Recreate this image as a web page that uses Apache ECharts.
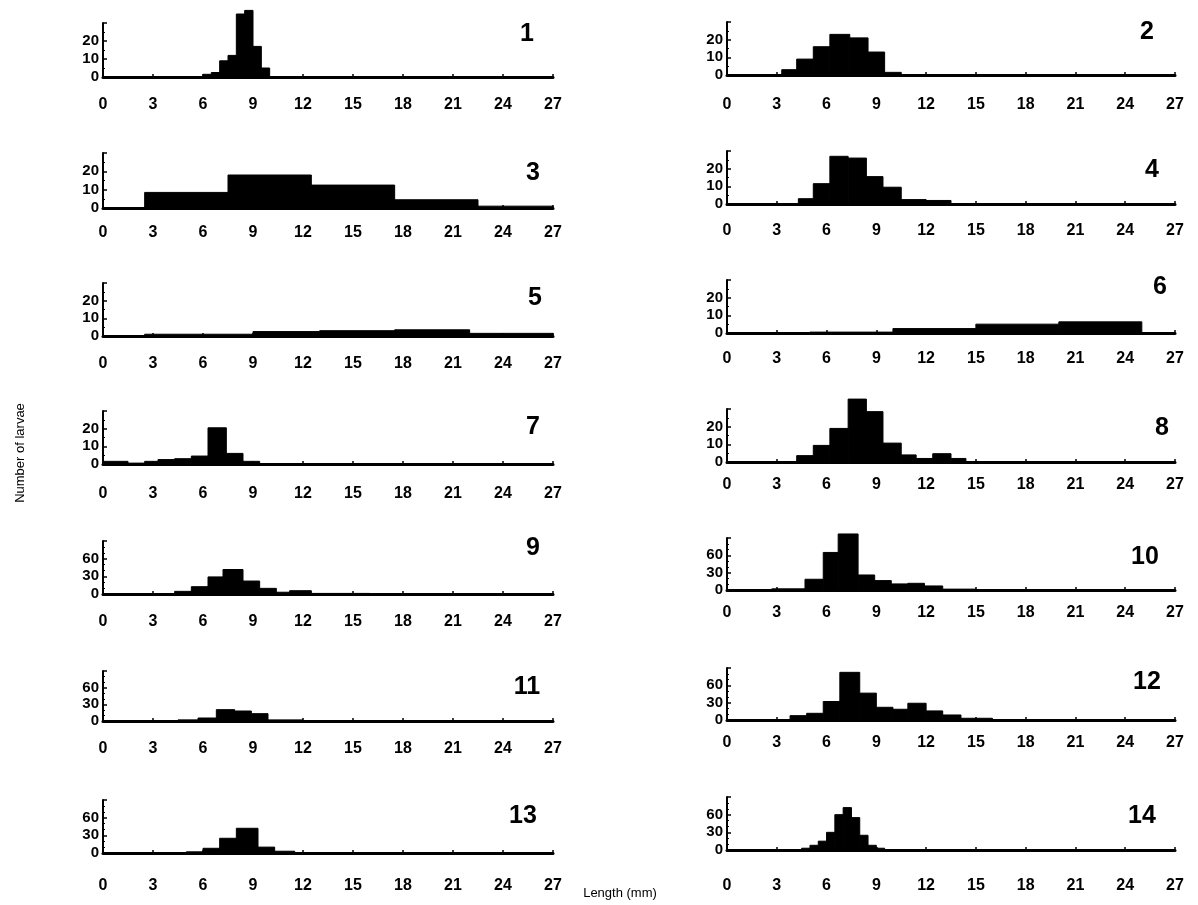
<!DOCTYPE html>
<html>
<head>
<meta charset="utf-8">
<script src="https://cdn.jsdelivr.net/npm/echarts@6/dist/echarts.min.js"></script>
<style>
html,body{margin:0;padding:0;background:#fff;}
#chart{width:1198px;height:905px;}
</style>
</head>
<body>
<div id="chart"></div>
<script>
// Histogram bins per panel: [start mm, end mm, number of larvae]
const panel1 = [[6,6.5,1.5],[6.5,7,2.5],[7,7.5,9],[7.5,8,12],[8,8.5,35],[8.5,9,37],[9,9.5,17],[9.5,10,5]];
const panel2 = [[3.3,4.2,3],[4.2,5.2,9],[5.2,6.2,16],[6.2,7.4,23],[7.4,8.5,21],[8.5,9.5,13],[9.5,10.5,1.5]];
const panel3 = [[2.5,7.5,8.5],[7.5,12.5,18],[12.5,17.5,12.5],[17.5,22.5,4.5],[22.5,27,1]];
const panel4 = [[4.3,5.2,3],[5.2,6.2,11.5],[6.2,7.3,27],[7.3,8.4,26],[8.4,9.4,15.5],[9.4,10.5,9.5],[10.5,12,2.5],[12,13.5,2]];
const panel5 = [[2.5,9,1],[9,13,2.5],[13,17.5,3],[17.5,22,3.5],[22,27,1.5]];
const panel6 = [[5,10,0.5],[10,15,2.5],[15,20,5],[20,25,6.3]];
const panel7 = [[0,1.5,1.5],[1.5,2.5,0.5],[2.5,3.3,1.5],[3.3,4.3,2.5],[4.3,5.3,3],[5.3,6.3,4.5],[6.3,7.4,20.5],[7.4,8.4,6],[8.4,9.4,1.5]];
const panel8 = [[4.2,5.2,3.6],[5.2,6.2,9.4],[6.2,7.3,19],[7.3,8.4,35.6],[8.4,9.4,28.5],[9.4,10.5,10.7],[10.5,11.4,4],[11.4,12.4,2],[12.4,13.5,4.7],[13.5,14.4,2]];
const panel9 = [[4.3,5.3,4.5],[5.3,6.3,12.4],[6.3,7.2,29],[7.2,8.4,41.6],[8.4,9.4,22],[9.4,10.4,9.6],[10.4,11.2,3],[11.2,12.5,5.6],[12.5,16,1]];
const panel10 = [[2.7,4.7,2],[4.7,5.8,18.6],[5.8,6.7,65],[6.7,7.9,97],[7.9,8.9,26],[8.9,9.9,16.3],[9.9,10.9,10.5],[10.9,11.9,11.6],[11.9,13,7],[13,15,1.5]];
const panel11 = [[4.5,5.7,2],[5.7,6.8,5.4],[6.8,7.9,20.4],[7.9,8.9,18],[8.9,9.9,13.2],[9.9,12,2]];
const panel12 = [[3.8,4.8,7.5],[4.8,5.8,11.6],[5.8,6.8,32],[6.8,8,82.5],[8,9,46.5],[9,10,22],[10,10.9,18.6],[10.9,12,29],[12,13,15.7],[13,14.1,8.7],[14.1,16,3]];
const panel13 = [[5,6,2],[6,7,8],[7,8,25],[8,9.3,42],[9.3,10.3,10],[10.3,11.5,3]];
const panel14 = [[4.5,5,3],[5,5.5,8],[5.5,6,15],[6,6.5,30],[6.5,7,60],[7,7.5,72],[7.5,8,55],[8,8.5,25],[8.5,9,8],[9,9.5,3]];

const panels = [panel1,panel2,panel3,panel4,panel5,panel6,panel7,panel8,panel9,panel10,panel11,panel12,panel13,panel14];
const panelNames = ['1','2','3','4','5','6','7','8','9','10','11','12','13','14'];
const yMaxSmall = 30, yIntSmall = 10;   // panels 1-8
const yMaxLarge = 90, yIntLarge = 30;   // panels 9-14
const xTickMax = 27, xTickInterval = 3;
const xTitle = 'Length (mm)';
const yTitle = 'Number of larvae';

// layout (pixels)
const colX = [[103,553],[727,1175]];
const rowsLeft = [[23,77],[153,208],[283,336],[411,464],[541,594],[671,721],[800,853]];
const rowsRight = [[22,75],[151,204],[280,333],[409,462],[538,590],[668,720],[797,850]];
const labelYLeft = [103,231,362,492,620,747,884];
const labelYRight = [103,229,357,483,611,741,884];
const numPos = [[527,34],[1147,32],[533,173],[1152,170],[535,298],[1160,287],[533,427],[1162,428],[533,548],[1145,557],[527,687],[1147,682],[523,816],[1142,816]];

const FONT = '"Liberation Sans", Arial, sans-serif';
const grids = [], xAxes = [], yAxes = [], series = [], graphics = [];

function renderItem(params, api) {
  const x0 = api.value(0), x1 = api.value(1), y = api.value(2);
  const p0 = api.coord([x0, 0]);
  const p1 = api.coord([x1, y]);
  return {
    type: 'rect',
    shape: {x: p0[0], y: p1[1], width: p1[0] - p0[0], height: p0[1] - p1[1]},
    style: {fill: '#000', stroke: '#000', lineWidth: 1}
  };
}

panels.forEach((data, i) => {
  const col = i % 2, row = Math.floor(i / 2);
  const [l, r] = colX[col];
  const [t, b] = (col === 0 ? rowsLeft : rowsRight)[row];
  const labelY = (col === 0 ? labelYLeft : labelYRight)[row];
  const large = i >= 8;
  const ymax = large ? yMaxLarge : yMaxSmall;
  const yint = large ? yIntLarge : yIntSmall;
  grids.push({left: l, top: t, width: r - l, height: b - t, containLabel: false});
  xAxes.push({
    type: 'value', gridIndex: i, min: 0, max: xTickMax, interval: xTickInterval,
    axisLine: {show: true, onZero: false, lineStyle: {color: '#000', width: 3}},
    axisTick: {show: true, inside: true, length: 3, lineStyle: {color: '#000', width: 1.5}},
    splitLine: {show: false},
    axisLabel: {show: true, margin: Math.max(4, labelY - b - 6), color: '#000', fontFamily: FONT, fontWeight: 'bold', fontSize: 16}
  });
  yAxes.push({
    type: 'value', gridIndex: i, min: 0, max: ymax, interval: yint,
    axisLine: {show: true, lineStyle: {color: '#000', width: 2}},
    axisTick: {show: true, inside: true, length: 4, lineStyle: {color: '#000', width: 1.5}},
    minorTick: {show: true, splitNumber: large ? 3 : 2, length: 2, lineStyle: {color: '#000', width: 1.2}},
    splitLine: {show: false},
    axisLabel: {
      show: true, margin: 4, color: '#000', fontFamily: FONT, fontWeight: 'bold', fontSize: 15,
      formatter: v => (v === ymax ? '' : String(v))
    }
  });
  series.push({
    type: 'custom', xAxisIndex: i, yAxisIndex: i, data: data,
    renderItem: renderItem, clip: false,
    encode: {x: [0, 1], y: 2}, silent: true, animation: false
  });
  graphics.push({
    type: 'text', x: numPos[i][0], y: numPos[i][1],
    style: {text: panelNames[i], font: 'bold 25px ' + FONT, fill: '#000', textAlign: 'center', textVerticalAlign: 'middle'}
  });
});

// Axis titles
graphics.push({
  type: 'text', x: 20, y: 453, rotation: Math.PI / 2,
  style: {text: yTitle, font: '13px ' + FONT, fill: '#000', textAlign: 'center', textVerticalAlign: 'middle'}
});
graphics.push({
  type: 'text', x: 620, y: 893,
  style: {text: xTitle, font: '13px ' + FONT, fill: '#000', textAlign: 'center', textVerticalAlign: 'middle'}
});

const chart = echarts.init(document.getElementById('chart'), null, {renderer: 'canvas'});
chart.setOption({
  animation: false,
  backgroundColor: '#fff',
  grid: grids, xAxis: xAxes, yAxis: yAxes, series: series,
  graphic: graphics
});
</script>
</body>
</html>
